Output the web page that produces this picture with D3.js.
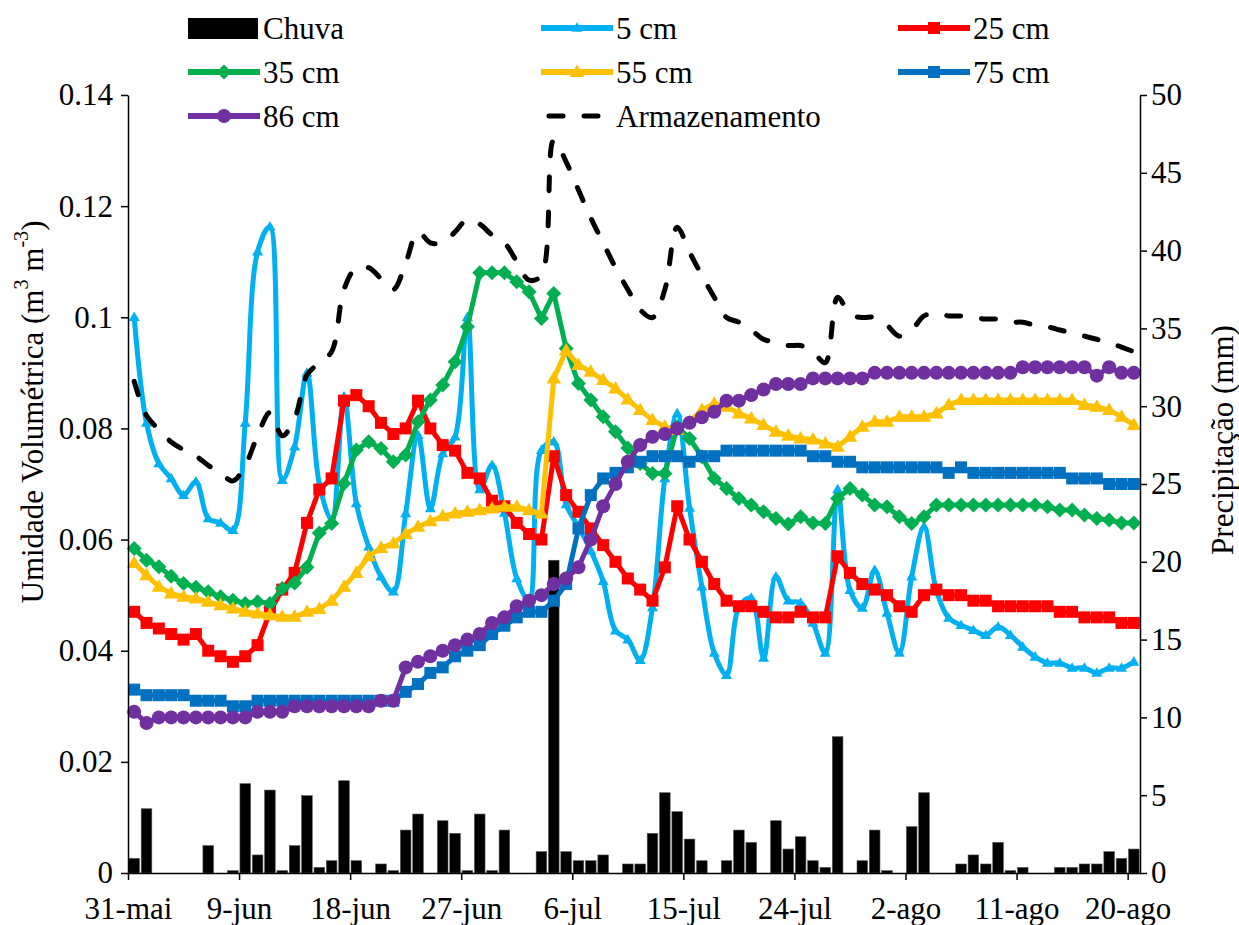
<!DOCTYPE html>
<html><head><meta charset="utf-8">
<script src="https://cdn.jsdelivr.net/npm/d3@7"></script>
<style>
body{margin:0;background:#fff}
svg{display:block}
svg, text, tspan{font-family:"Liberation Serif","Times New Roman",Times,"DejaVu Serif","Noto Serif",serif !important;fill:#000}
</style>
</head><body>
<svg id="c" width="1239" height="925"></svg>
<script>
// ---- data (daily, 31-mai .. 20-ago) ----
const tickLabels = ["31-mai","9-jun","18-jun","27-jun","6-jul","15-jul","24-jul","2-ago","11-ago","20-ago"];
const tickDays = [0,9,18,27,36,45,54,63,72,81];

const chuva = [0.94,4.13,0,0,0,0,1.76,0,0.15,5.74,
1.16,5.33,0.15,1.76,4.97,0.36,0.79,5.93,0.79,0,
0.58,0.15,2.76,3.79,0,3.36,2.55,0.15,3.79,0.15,
2.76,0,0,1.37,20.1,1.37,0.79,0.79,1.16,0,
0.58,0.58,2.55,5.16,3.94,2.18,0.79,0,0.79,2.76,
1.97,0,3.36,1.54,2.33,0.79,0.36,8.76,0,0.79,
2.76,0.15,0,2.98,5.16,0,0,0.58,1.16,0.58,
1.97,0.15,0.36,0,0,0.36,0.36,0.58,0.58,1.37,
0.94,1.54];

const cm5 = [0.100,0.081,0.0737,0.071,0.068,0.0704,0.0638,0.063,0.0617,0.081,
0.1118,0.1163,0.0707,0.0767,0.090,0.070,0.0635,0.0857,0.0665,0.0587,
0.0533,0.0506,0.0647,0.0788,0.0656,0.0755,0.0785,0.100,0.069,0.0734,
0.0648,0.053,0.049,0.0761,0.0776,0.0663,0.0623,0.058,0.0525,0.0436,
0.042,0.0383,0.0478,0.071,0.0827,0.0657,0.0515,0.0396,0.0356,0.0479,
0.0495,0.0387,0.0533,0.049,0.0486,0.045,0.0396,0.069,0.0509,0.0477,
0.0545,0.0468,0.0396,0.0533,0.0623,0.0509,0.0459,0.0446,0.0437,0.0428,
0.0443,0.0428,0.0407,0.0389,0.0378,0.0378,0.0369,0.0369,0.036,0.0369,
0.0369,0.038];

const cm25 = [0.047,0.045,0.044,0.043,0.042,0.043,0.040,0.039,0.038,0.039,
0.041,0.047,0.051,0.054,0.063,0.069,0.071,0.085,0.086,0.084,
0.081,0.079,0.080,0.085,0.080,0.077,0.076,0.072,0.071,0.067,
0.066,0.063,0.061,0.060,0.075,0.068,0.065,0.062,0.059,0.056,
0.053,0.051,0.049,0.055,0.066,0.060,0.056,0.052,0.049,0.048,
0.048,0.047,0.046,0.046,0.047,0.046,0.046,0.057,0.054,0.052,
0.051,0.050,0.048,0.047,0.050,0.051,0.050,0.050,0.049,0.049,
0.048,0.048,0.048,0.048,0.048,0.047,0.047,0.046,0.046,0.046,
0.045,0.045];

const cm35 = [0.0584,0.0563,0.0551,0.0534,0.0521,0.0514,0.0506,0.0497,0.0491,0.0485,
0.0488,0.0485,0.0512,0.0522,0.055,0.0612,0.0629,0.0701,0.0761,0.0776,
0.0764,0.074,0.0752,0.0812,0.0851,0.0878,0.092,0.0983,0.108,0.108,
0.108,0.1064,0.1046,0.0998,0.1043,0.0944,0.0881,0.0851,0.0821,0.0794,
0.0765,0.0737,0.0719,0.0719,0.0803,0.0782,0.0749,0.071,0.0692,0.0674,
0.0662,0.065,0.0638,0.0628,0.0641,0.063,0.0629,0.0674,0.0692,0.068,
0.0662,0.0659,0.0641,0.0629,0.0641,0.0662,0.0662,0.0662,0.0662,0.0662,
0.0662,0.0662,0.0662,0.0662,0.0659,0.0653,0.0653,0.0644,0.0638,0.0635,
0.063,0.063];

const cm55 = [0.0558,0.0536,0.0515,0.0503,0.0497,0.0494,0.0488,0.0482,0.0476,0.047,
0.0467,0.0464,0.0461,0.0461,0.047,0.0475,0.049,0.0515,0.054,0.057,
0.0585,0.0593,0.061,0.0623,0.0633,0.0642,0.0647,0.065,0.0653,0.0656,
0.0659,0.0659,0.0653,0.0647,0.089,0.094,0.0914,0.0902,0.0887,0.0872,
0.0852,0.0833,0.0815,0.0803,0.0797,0.0812,0.0833,0.0845,0.0839,0.0827,
0.0818,0.0806,0.0794,0.0787,0.0782,0.078,0.0773,0.0767,0.0785,0.0803,
0.0812,0.0812,0.0821,0.0821,0.0821,0.0827,0.0842,0.0851,0.0851,0.0851,
0.0851,0.0851,0.0851,0.0851,0.0851,0.0851,0.0851,0.0842,0.0839,0.0833,
0.0821,0.0806];

const cm75 = [0.033,0.032,0.032,0.032,0.032,0.031,0.031,0.031,0.030,0.030,
0.031,0.031,0.031,0.031,0.031,0.031,0.031,0.031,0.031,0.031,
0.031,0.031,0.0326,0.034,0.036,0.037,0.039,0.040,0.041,0.043,
0.0445,0.046,0.047,0.047,0.049,0.052,0.062,0.068,0.071,0.072,
0.073,0.074,0.075,0.075,0.075,0.074,0.075,0.075,0.076,0.076,
0.076,0.076,0.076,0.076,0.076,0.075,0.075,0.074,0.074,0.073,
0.073,0.073,0.073,0.073,0.073,0.073,0.072,0.073,0.072,0.072,
0.072,0.072,0.072,0.072,0.072,0.072,0.071,0.071,0.071,0.070,
0.070,0.070];

const cm86 = [0.029,0.027,0.028,0.028,0.028,0.028,0.028,0.028,0.028,0.028,
0.029,0.029,0.029,0.030,0.030,0.030,0.030,0.030,0.030,0.030,
0.031,0.031,0.037,0.038,0.039,0.040,0.041,0.042,0.043,0.045,
0.046,0.048,0.049,0.050,0.052,0.053,0.055,0.060,0.066,0.070,
0.074,0.077,0.0785,0.079,0.080,0.081,0.082,0.083,0.085,0.085,
0.086,0.087,0.088,0.088,0.088,0.089,0.089,0.089,0.089,0.089,
0.090,0.090,0.090,0.090,0.090,0.090,0.090,0.090,0.090,0.090,
0.090,0.090,0.091,0.091,0.091,0.091,0.091,0.091,0.0895,0.091,
0.090,0.090];

const armazenamento = [31.6,29.4,28.5,27.7,27.2,26.8,26.2,25.7,25.2,26.2,
28.1,29.6,28.1,29.2,32.0,32.8,33.5,37.5,38.9,38.9,
38.2,37.5,39.2,41.2,40.5,40.5,41.2,42.0,41.7,41.0,
40.5,39.3,38.1,38.4,47.1,45.7,43.9,42.1,40.5,38.9,
37.5,36.2,35.7,37.5,41.5,39.9,38.4,37.0,35.7,35.4,
34.9,34.3,34.1,33.9,33.9,33.5,32.8,37.0,35.9,35.7,
35.7,35.2,34.5,34.9,35.8,36.0,35.8,35.8,35.7,35.6,
35.6,35.4,35.4,35.2,35.1,34.9,34.7,34.5,34.3,34.1,
33.8,33.5];

const leftTicks = [0,0.02,0.04,0.06,0.08,0.1,0.12,0.14];
const rightTicks = [0,5,10,15,20,25,30,35,40,45,50];

// ---- chart ----
const svg = d3.select("#c");
const FONT = '"Liberation Serif","Times New Roman",Times,"DejaVu Serif","Noto Serif",serif';
const FS = 31;
const L = 128, R = 1140, T = 95, B = 873;
const nDays = chuva.length;
const x = d3.scaleLinear().domain([0, nDays]).range([L, R]);
const yL = d3.scaleLinear().domain([0, 0.14]).range([B, T]);
const yR = d3.scaleLinear().domain([0, 50]).range([B, T]);

// bars
svg.append("g").selectAll("rect").data(chuva).join("rect")
  .attr("x", (d,i)=>x(i+0.07)).attr("width", x(0.86)-x(0))
  .attr("y", d=>yR(d)).attr("height", d=>yR(0)-yR(d))
  .attr("fill","#000").attr("stroke","#555").attr("stroke-width",0.6);

const series = [
  {name:"5 cm", data:cm5, color:"#00B0F0", sym:"tri", size:11, smooth:true},
  {name:"25 cm", data:cm25, color:"#FF0000", sym:"sq", size:12},
  {name:"35 cm", data:cm35, color:"#00B050", sym:"dia", size:7.5},
  {name:"55 cm", data:cm55, color:"#FFC000", sym:"tri", size:14.5},
  {name:"75 cm", data:cm75, color:"#0070C0", sym:"sq", size:12},
  {name:"86 cm", data:cm86, color:"#7030A0", sym:"circ", size:7}
];

function markerPath(sym, s){
  if(sym==="sq"){const h=s/2;return `M${-h},${-h}H${h}V${h}H${-h}Z`;}
  if(sym==="dia"){return `M0,${-s}L${s},0L0,${s}L${-s},0Z`;}
  if(sym==="tri"){const h=s*0.866;return `M0,${-h*0.6}L${s/2},${h*0.4}L${-s/2},${h*0.4}Z`;}
  return "";
}

const lw = 5;
const smoothCurve = d3.curveCatmullRom.alpha(0.5);
series.forEach(s=>{
  const line = d3.line().x((d,i)=>x(i+0.5)).y(d=>yL(d));
  if(s.smooth) line.curve(smoothCurve);
  const g = svg.append("g");
  g.append("path").attr("d", line(s.data)).attr("fill","none")
    .attr("stroke", s.color).attr("stroke-width", lw).attr("stroke-linejoin","round");
  if(s.sym==="circ"){
    g.selectAll("circle").data(s.data).join("circle")
      .attr("cx",(d,i)=>x(i+0.5)).attr("cy",d=>yL(d)).attr("r",s.size).attr("fill",s.color);
  } else {
    g.selectAll("path.m").data(s.data).join("path").attr("class","m")
      .attr("transform",(d,i)=>`translate(${x(i+0.5)},${yL(d)})`)
      .attr("d", markerPath(s.sym, s.size)).attr("fill", s.color);
  }
});

// storage dashed
const DASH = "14,21";
const arLine = d3.line().x((d,i)=>x(i+0.5)).y(d=>yR(d)).curve(smoothCurve);
svg.append("path").attr("d", arLine(armazenamento)).attr("fill","none")
  .attr("stroke","#000").attr("stroke-width",lw).attr("stroke-dasharray",DASH)
  .attr("stroke-linecap","round");

// axes
const axL = svg.append("g").attr("transform",`translate(${L},0)`)
  .call(d3.axisLeft(yL).tickValues(leftTicks).tickFormat(d=>d===0?"0":String(+d.toFixed(2))).tickSizeInner(7).tickSizeOuter(0).tickPadding(8));
const axR = svg.append("g").attr("transform",`translate(${R},0)`)
  .call(d3.axisRight(yR).tickValues(rightTicks).tickSizeInner(7).tickSizeOuter(0).tickPadding(4));
const axB = svg.append("g").attr("transform",`translate(0,${B})`)
  .call(d3.axisBottom(x).tickValues(tickDays).tickFormat((d,i)=>tickLabels[i]).tickSizeInner(7).tickSizeOuter(0).tickPadding(17));
[axL,axR,axB].forEach(a=>{
  a.attr("font-family", FONT);
  a.selectAll("path.domain").attr("stroke","#000").attr("stroke-width",1.5);
  a.selectAll(".tick line").attr("stroke","#000").attr("stroke-width",1.5);
  a.selectAll("text").style("font-size",FS+"px").style("font-family",FONT).attr("fill","#000");
});

// axis titles
const tl = svg.append("text").attr("transform","translate(32,412) rotate(-90)")
  .attr("text-anchor","middle").attr("dominant-baseline","central")
  .style("font-size",FS+"px").style("font-family",FONT);
tl.append("tspan").text("Umidade Volumétrica (m");
tl.append("tspan").text("3").attr("baseline-shift","super").style("font-size",(FS*0.65)+"px");
tl.append("tspan").text(" m");
tl.append("tspan").text("-3").attr("baseline-shift","super").style("font-size",(FS*0.65)+"px");
tl.append("tspan").text(")");

svg.append("text").attr("transform","translate(1222,440) rotate(-90)")
  .attr("text-anchor","middle").attr("dominant-baseline","central")
  .style("font-size",FS+"px").style("font-family",FONT)
  .text("Precipitação (mm)");

// legend
const legItems = [
  {name:"Chuva", type:"bar"},
  series[0], series[1], series[2], series[3], series[4], series[5],
  {name:"Armazenamento", type:"dash"}
];
const colX = [188, 541, 898], rowY = [28, 72, 116];
legItems.forEach((it,k)=>{
  const cx = colX[k%3], cy = rowY[Math.floor(k/3)];
  const g = svg.append("g");
  if(it.type==="bar"){
    g.append("rect").attr("x",cx).attr("y",cy-10).attr("width",70).attr("height",21).attr("fill","#000");
  } else if(it.type==="dash"){
    g.append("path").attr("d",`M${cx+8},${cy}H${cx+70}`).attr("stroke","#000").attr("stroke-width",lw)
      .attr("stroke-dasharray",DASH).attr("stroke-linecap","round");
  } else {
    g.append("line").attr("x1",cx).attr("x2",cx+72).attr("y1",cy).attr("y2",cy)
      .attr("stroke",it.color).attr("stroke-width",lw+1);
    if(it.sym==="circ") g.append("circle").attr("cx",cx+36).attr("cy",cy).attr("r",it.size).attr("fill",it.color);
    else g.append("path").attr("transform",`translate(${cx+36},${cy})`).attr("d",markerPath(it.sym,it.size)).attr("fill",it.color);
  }
  g.append("text").attr("x",cx+75).attr("y",cy).attr("dominant-baseline","central")
    .style("font-size",FS+"px").style("font-family",FONT).text(it.name);
});
</script>
</body></html>
